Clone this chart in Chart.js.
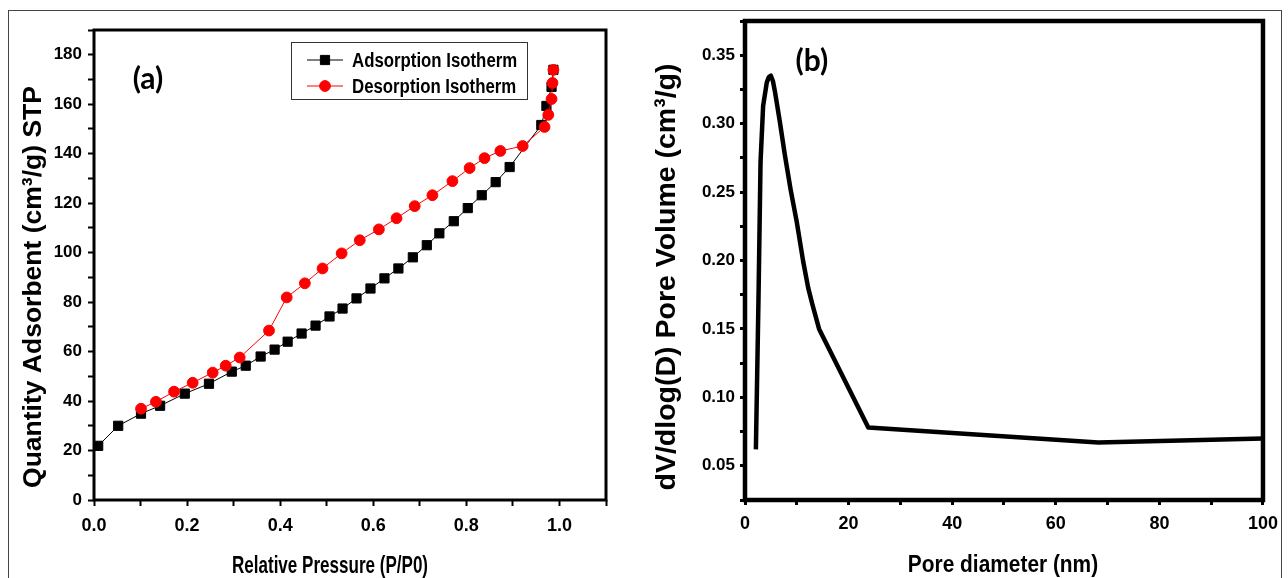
<!DOCTYPE html>
<html>
<head>
<meta charset="utf-8">
<script src="https://cdn.jsdelivr.net/npm/chart.js@4.4.1/dist/chart.umd.min.js"></script>
<style>
  html, body { margin: 0; padding: 0; background: #fff; }
  #page { position: relative; width: 1288px; height: 578px; overflow: hidden; }
  #frame { position: absolute; left: 8px; top: 10px; width: 1274px; height: 590px; border: 1px solid #444; box-sizing: border-box; }
  #wrapA { position: absolute; left: 0; top: 0; }
  #wrapB { position: absolute; left: 640px; top: 0; }
</style>
</head>
<body>
<div id="page">
  <div id="frame"></div>
  <div id="wrapA"><canvas id="isoChart" width="640" height="578"></canvas></div>
  <div id="wrapB"><canvas id="poreChart" width="648" height="578"></canvas></div>
</div>
<script>
// (a) N2 isotherm
const adsP = [0.009, 0.052, 0.101, 0.142, 0.195, 0.247, 0.296, 0.326, 0.358, 0.388, 0.416, 0.446, 0.476, 0.506, 0.534, 0.564, 0.594, 0.624, 0.654, 0.685, 0.715, 0.742, 0.773, 0.803, 0.833, 0.863, 0.893, 0.961, 0.972, 0.983, 0.987]
const adsQ = [21.9, 30.0, 34.9, 38.1, 43.0, 47.0, 51.9, 54.3, 58.0, 60.8, 64.0, 67.3, 70.5, 74.2, 77.4, 81.5, 85.5, 89.6, 93.6, 98.1, 103.0, 107.8, 112.7, 118.0, 123.2, 128.5, 134.6, 151.6, 159.3, 167.0, 173.9]
const desP = [0.987, 0.985, 0.983, 0.976, 0.968, 0.921, 0.873, 0.839, 0.807, 0.770, 0.727, 0.689, 0.650, 0.612, 0.571, 0.532, 0.491, 0.453, 0.414, 0.376, 0.313, 0.283, 0.255, 0.212, 0.172, 0.133, 0.101]
const desQ = [173.9, 168.6, 162.1, 155.7, 150.8, 143.1, 141.1, 138.2, 134.2, 128.9, 123.2, 118.8, 113.9, 109.4, 105.0, 99.7, 93.6, 87.6, 81.9, 68.5, 57.6, 54.3, 51.5, 47.4, 43.8, 39.7, 36.9]

// (b) pore size distribution
const poreD = [2.1, 2.6, 3.0, 3.5, 4.2, 4.6, 5.0, 5.4, 5.8, 6.7, 7.7, 8.8, 10.0, 11.2, 12.2, 13.0, 14.3, 23.8, 68.2, 100]
const poreV = [0.062, 0.171, 0.272, 0.313, 0.330, 0.334, 0.335, 0.331, 0.323, 0.302, 0.277, 0.252, 0.228, 0.200, 0.180, 0.168, 0.150, 0.078, 0.067, 0.070]

const seriesNames = ['Adsorption Isotherm', 'Desorption Isotherm']
const xTitleA = 'Relative Pressure (P/P0)'
const yTitleA = 'Quantity Adsorbent (cm\u00B3/g) STP'
const xTitleB = 'Pore diameter (nm)'
const yTitleB = 'dV/dlog(D) Pore Volume (cm\u00B3/g)'
const panelA = '(a)'
const panelB = '(b)'

const sans = "'Liberation Sans', Arial, sans-serif"

const pts = (xs, ys) => xs.map((x, i) => ({x: x, y: ys[i]}))

// thick box round the plot area
const frameBox = {
  id: 'frameBox',
  afterDraw: (chart, args, opts) => {
    const {ctx, chartArea} = chart
    ctx.save()
    ctx.strokeStyle = '#000'
    ctx.lineWidth = opts.width
    ctx.strokeRect(chartArea.left, chartArea.top, chartArea.right - chartArea.left, chartArea.bottom - chartArea.top)
    ctx.restore()
  }
}

// "(a)" / "(b)" tag placed in data units
const panelTag = {
  id: 'panelTag',
  afterDraw: (chart, args, opts) => {
    const {ctx, scales} = chart
    ctx.save()
    ctx.font = "bold 30px Lato, 'Open Sans', sans-serif"
    ctx.fillStyle = '#000'
    ctx.textAlign = 'center'
    ctx.textBaseline = 'middle'
    ctx.fillText(opts.text, scales.x.getPixelForValue(opts.x), scales.y.getPixelForValue(opts.y))
    ctx.restore()
  }
}

// axis titles, the source figure is squeezed sideways so the x titles are narrowed
const axisTitles = {
  id: 'axisTitles',
  afterDraw: (chart, args, opts) => {
    const {ctx} = chart
    opts.items.forEach(t => {
      ctx.save()
      ctx.translate(t.x, t.y)
      if (t.vertical) ctx.rotate(-Math.PI / 2)
      ctx.scale(t.sx || 1, 1)
      ctx.font = 'bold ' + t.size + 'px ' + sans
      ctx.fillStyle = '#000'
      ctx.textAlign = 'center'
      ctx.textBaseline = 'middle'
      ctx.fillText(t.text, 0, 0)
      ctx.restore()
    })
  }
}

// Origin style legend: line + marker inside a box
const boxLegend = {
  id: 'boxLegend',
  afterDatasetsDraw: (chart, args, opts) => {
    const {ctx, chartArea} = chart
    const x0 = chartArea.left + opts.dx
    const y0 = chartArea.top + opts.dy
    ctx.save()
    ctx.fillStyle = '#fff'
    ctx.fillRect(x0, y0, opts.w, opts.h)
    ctx.strokeStyle = '#333'
    ctx.lineWidth = 1
    ctx.strokeRect(x0 + 0.5, y0 + 0.5, opts.w, opts.h)
    chart.data.datasets.forEach((ds, i) => {
      const y = y0 + opts.firstRow + i * opts.rowGap
      ctx.strokeStyle = ds.borderColor
      ctx.lineWidth = 1
      ctx.beginPath()
      ctx.moveTo(x0 + 16, y)
      ctx.lineTo(x0 + 52, y)
      ctx.stroke()
      ctx.fillStyle = ds.pointBackgroundColor
      ctx.strokeStyle = ds.pointBorderColor
      Chart.helpers.drawPoint(ctx, {pointStyle: ds.pointStyle, radius: ds.pointRadius, borderWidth: 1, rotation: 0}, x0 + 34, y)
      ctx.save()
      ctx.translate(x0 + 61, y + 1)
      ctx.scale(0.84, 1)
      ctx.fillStyle = '#000'
      ctx.font = 'bold 20px ' + sans
      ctx.textBaseline = 'middle'
      ctx.textAlign = 'left'
      ctx.fillText(ds.label, 0, 0)
      ctx.restore()
    })
    ctx.restore()
  }
}

const boldFont = (size) => ({family: sans, size: size, weight: 'bold', lineHeight: 1})

const isoChart = new Chart(document.getElementById('isoChart'), {
  type: 'line',
  data: {
    datasets: [
      {
        label: seriesNames[0],
        data: pts(adsP, adsQ),
        borderColor: '#000',
        borderWidth: 1,
        pointStyle: 'rect',
        pointRadius: 6.5,
        pointBackgroundColor: '#000',
        pointBorderColor: '#000',
        pointBorderWidth: 1,
        tension: 0,
        order: 1
      },
      {
        label: seriesNames[1],
        data: pts(desP, desQ),
        borderColor: '#ff0000',
        borderWidth: 1,
        pointStyle: 'circle',
        pointRadius: 5.4,
        pointBackgroundColor: '#ff0000',
        pointBorderColor: '#ff0000',
        pointBorderWidth: 1,
        tension: 0,
        order: 0
      }
    ]
  },
  options: {
    responsive: false,
    animation: false,
    devicePixelRatio: 1,
    layout: {padding: {left: 0, top: 30, right: 34, bottom: 0}},
    plugins: {
      legend: {display: false},
      tooltip: {enabled: false},
      frameBox: {width: 3},
      panelTag: {text: panelA, x: 0.116, y: 170},
      boxLegend: {dx: 197, dy: 12, w: 236, h: 57, firstRow: 18, rowGap: 26},
      axisTitles: {items: [
        {text: xTitleA, x: 330, y: 566, size: 24, sx: 0.71},
        {text: yTitleA, x: 34, y: 287, size: 26.5, vertical: true}
      ]}
    },
    scales: {
      x: {
        type: 'linear',
        min: 0,
        max: 1.1,
        border: {display: false},
        grid: {drawOnChartArea: false, tickLength: 6, tickWidth: 2, tickColor: '#000'},
        ticks: {
          stepSize: 0.1,
          autoSkip: false,
          maxRotation: 0,
          padding: 11,
          color: '#000',
          font: boldFont(18),
          callback: v => (Math.round(v * 10) % 2 === 0 && v < 1.05) ? v.toFixed(1) : ''
        },
        afterFit: s => { s.height = 78 }
      },
      y: {
        type: 'linear',
        min: 0,
        max: 190,
        border: {display: false},
        grid: {drawOnChartArea: false, tickLength: 6, tickWidth: 2, tickColor: '#000'},
        ticks: {
          stepSize: 10,
          autoSkip: false,
          padding: 6,
          color: '#000',
          font: boldFont(17),
          callback: v => v % 20 === 0 ? v : ''
        },
        afterFit: s => { s.width = 94 }
      }
    }
  },
  plugins: [frameBox, panelTag, boxLegend, axisTitles]
})

const poreChart = new Chart(document.getElementById('poreChart'), {
  type: 'line',
  data: {
    datasets: [{
      label: 'Pore volume',
      data: pts(poreD, poreV),
      borderColor: '#000',
      borderWidth: 4.5,
      borderJoinStyle: 'round',
      pointRadius: 0,
      tension: 0,
      fill: false
    }]
  },
  options: {
    responsive: false,
    animation: false,
    devicePixelRatio: 1,
    layout: {padding: {left: 0, top: 21, right: 25, bottom: 0}},
    plugins: {
      legend: {display: false},
      tooltip: {enabled: false},
      frameBox: {width: 4.5},
      panelTag: {text: panelB, x: 12.9, y: 0.3456},
      axisTitles: {items: [
        {text: xTitleB, x: 363, y: 565, size: 24, sx: 0.87},
        {text: yTitleB, x: 27, y: 277, size: 28.5, vertical: true}
      ]}
    },
    scales: {
      x: {
        type: 'linear',
        min: 0,
        max: 100,
        border: {display: false},
        grid: {drawOnChartArea: false, tickLength: 5, tickWidth: 3, tickColor: '#000'},
        ticks: {
          stepSize: 10,
          autoSkip: false,
          maxRotation: 0,
          padding: 10,
          color: '#000',
          font: boldFont(18),
          callback: v => v % 20 === 0 ? v : ''
        },
        afterFit: s => { s.height = 78 }
      },
      y: {
        type: 'linear',
        min: 0.025,
        max: 0.375,
        border: {display: false},
        grid: {drawOnChartArea: false, tickLength: 5, tickWidth: 3, tickColor: '#000'},
        ticks: {
          stepSize: 0.025,
          autoSkip: false,
          padding: 5,
          color: '#000',
          font: boldFont(17),
          callback: v => Math.round(v * 1000) % 50 === 0 ? v.toFixed(2) : ''
        },
        afterFit: s => { s.width = 105 }
      }
    }
  },
  plugins: [frameBox, panelTag, axisTitles]
})
</script>
</body>
</html>
